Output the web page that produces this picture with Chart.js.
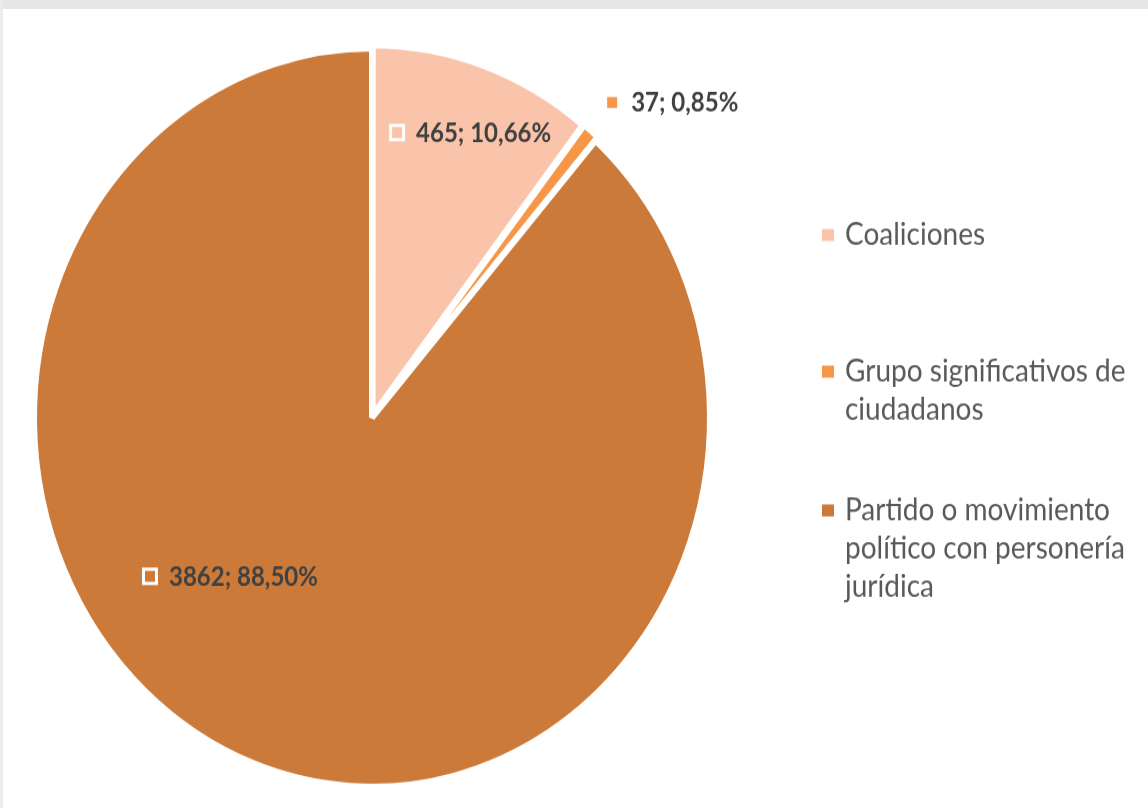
<!DOCTYPE html>
<html>
<head>
<meta charset="utf-8">
<script src="https://cdn.jsdelivr.net/npm/chart.js@4.4.1/dist/chart.umd.min.js"></script>
<style>
  body { margin:0; background:#fff; width:1148px; height:808px; overflow:hidden; position:relative; }
  #wrap { position:absolute; left:0; top:0; width:1148px; height:739px; transform:scaleY(1.093); transform-origin:0 0; }
  #topband { position:absolute; left:0; top:0; width:1148px; height:9px; background:#e6e6e6; }
  #leftband { position:absolute; left:0; top:0; width:3px; height:808px; background:#ececec; }
</style>
</head>
<body>
<div id="wrap"><canvas id="myChart" width="1148" height="739"></canvas></div>
<div id="topband"></div><div id="leftband"></div>
<script>
const labels = [["Coaliciones"], ["Grupo significativos de", "ciudadanos"], ["Partido o movimiento", "político con personería", "jurídica"]];
const values = [465, 37, 3862];
const sliceColors = ["#f9c4aa", "#f79646", "#cb7a39"];

// where each value label sits: angle from top (deg), fraction of radius
const labelSpots = [[5.5, 0.775], [39.8, 1.11], [236.8, 0.785]];
const legendSpot = { boxX: 822, textX: 845, y: [215, 340, 467], line: 35 };

const dataLabels = {
    id: "dataLabels",
    afterDatasetsDraw(chart) {
        const ctx = chart.ctx;
        const meta = chart.getDatasetMeta(0);
        const data = chart.data.datasets[0].data;
        const total = data.reduce((a, b) => a + b, 0);
        ctx.save();
        ctx.font = "bold 24px Lato";
        ctx.textBaseline = "middle";
        meta.data.forEach((arc, i) => {
            const a = labelSpots[i][0] * Math.PI / 180;
            const r = arc.outerRadius * labelSpots[i][1];
            const x = arc.x + Math.sin(a) * r;
            const y = arc.y - Math.cos(a) * r;
            ctx.fillStyle = sliceColors[i];
            ctx.strokeStyle = "#fff";
            ctx.lineWidth = 3;
            ctx.fillRect(x - 6.5, y - 6.5, 13, 13);
            ctx.strokeRect(x - 6.5, y - 6.5, 13, 13);
            const pct = (data[i] / total * 100).toFixed(2).replace(".", ",");
            ctx.fillStyle = "#404040";
            ctx.fillText(data[i] + "; " + pct + "%", x + 19, y + 1);
        });
        ctx.restore();
    }
};

const sideLegend = {
    id: "sideLegend",
    afterDraw(chart) {
        const ctx = chart.ctx;
        ctx.save();
        ctx.font = "28px Lato";
        ctx.textBaseline = "middle";
        chart.data.labels.forEach((lines, i) => {
            const y0 = legendSpot.y[i];
            ctx.fillStyle = sliceColors[i];
            ctx.fillRect(legendSpot.boxX, y0 - 5.5, 12, 11);
            ctx.fillStyle = "#595959";
            lines.forEach((t, j) => ctx.fillText(t, legendSpot.textX, y0 + j * legendSpot.line));
        });
        ctx.restore();
    }
};

const chart = new Chart(document.getElementById("myChart"), {
    type: "pie",
    data: {
        labels: labels,
        datasets: [{
            data: values,
            backgroundColor: sliceColors,
            borderColor: "#fff",
            borderWidth: 6,
            offset: [8, 8, 0]
        }]
    },
    options: {
        responsive: false,
        animation: false,
        radius: 338,
        layout: { padding: { left: 0, right: 404, top: 25, bottom: 0 } },
        plugins: {
            legend: { display: false },
            tooltip: { enabled: false },
            title: { display: false }
        }
    },
    plugins: [dataLabels, sideLegend]
});
</script>
</body>
</html>
